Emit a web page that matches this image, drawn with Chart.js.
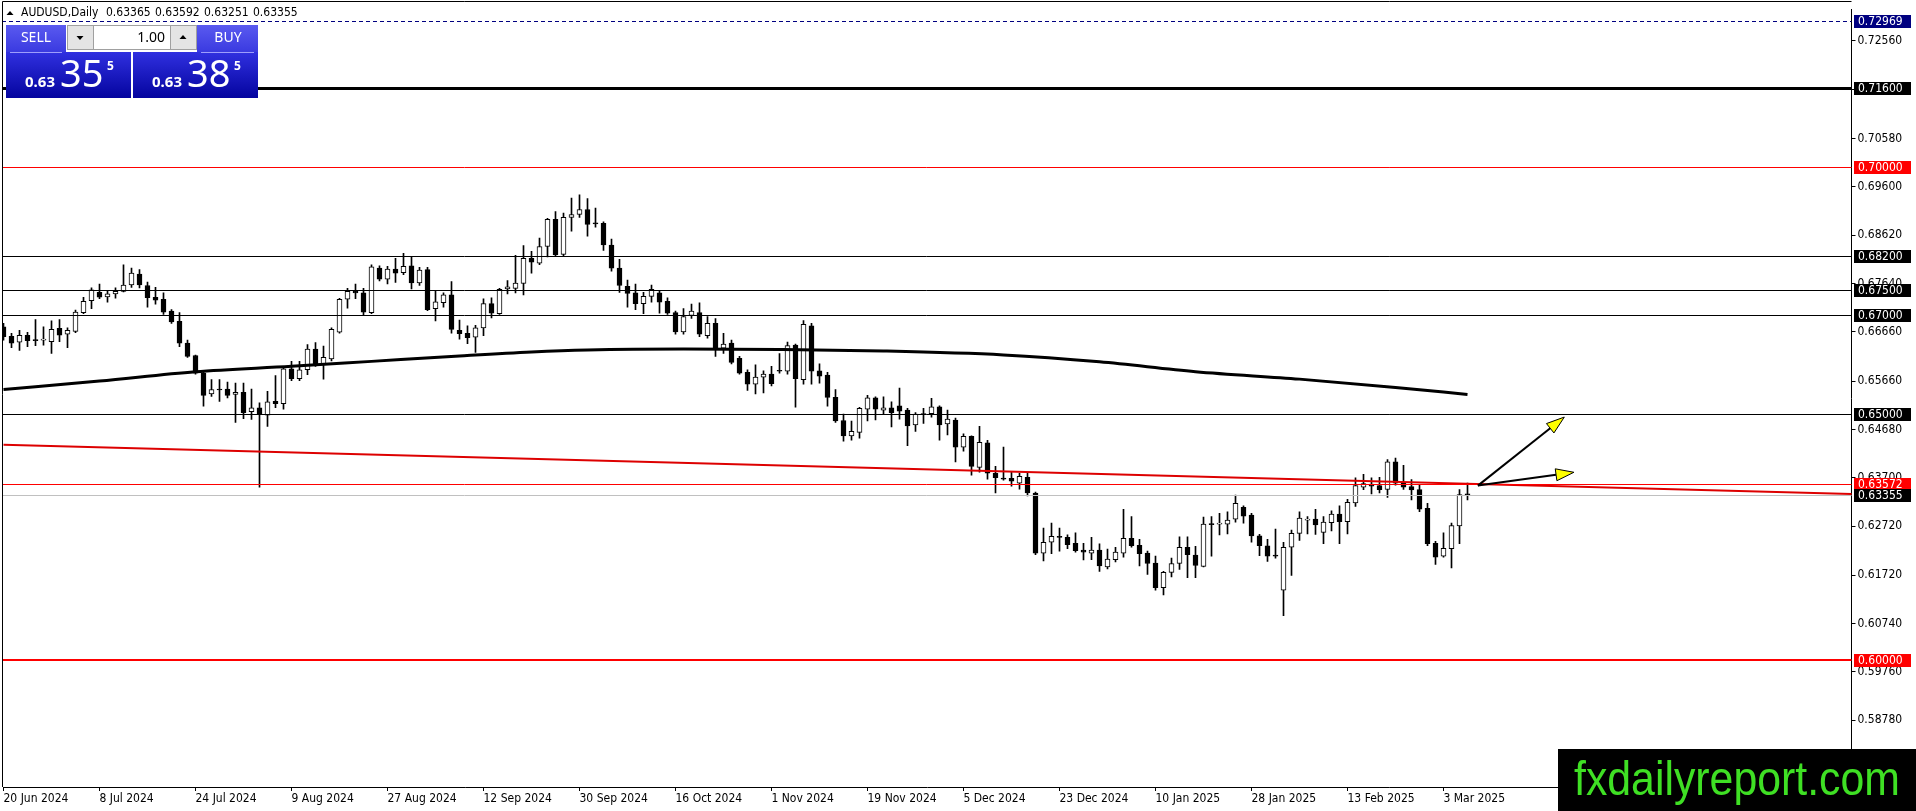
<!DOCTYPE html>
<html lang="en">
<head>
<meta charset="UTF-8" />
<title>AUDUSD Daily</title>
<script src="https://cdn.jsdelivr.net/npm/chart.js@4.4.1/dist/chart.umd.min.js"></script>
<style>
  html, body { margin: 0; padding: 0; background: #fff; }
  #wrap { width: 1916px; height: 811px; position: relative; }
</style>
</head>
<body>
<div id="wrap"><canvas id="chart"></canvas></div>
<script>
// x axis: one slot per daily bar, a date label every 12 bars
const slotCount = 232;
const barIndex = Array.from({ length: slotCount }, (_, i) => i);
const tickDates = [
  "20 Jun 2024", "8 Jul 2024", "24 Jul 2024", "9 Aug 2024", "27 Aug 2024",
  "12 Sep 2024", "30 Sep 2024", "16 Oct 2024", "1 Nov 2024", "19 Nov 2024",
  "5 Dec 2024", "23 Dec 2024", "10 Jan 2025", "28 Jan 2025", "13 Feb 2025", "3 Mar 2025",
];
const priceTicks = [
  0.7256, 0.7158, 0.7058, 0.696, 0.6862, 0.6764, 0.6666, 0.6566,
  0.6468, 0.637, 0.6272, 0.6172, 0.6074, 0.5976, 0.5878,
];

// daily candles, 20 Jun 2024 .. 6 Mar 2025
const opens = [
  0.6676, 0.6657, 0.6645, 0.6659, 0.6649, 0.6649, 0.6646, 0.6673, 0.6661, 0.6667,
  0.6705, 0.6729, 0.6746, 0.6737, 0.6743, 0.6748, 0.6761, 0.6783, 0.6760, 0.6736,
  0.6732, 0.6708, 0.6687, 0.6643, 0.6618, 0.6582, 0.6540, 0.6550, 0.6550, 0.6539,
  0.6543, 0.6504, 0.6512, 0.6497, 0.6525, 0.6520, 0.6591, 0.6571, 0.6589, 0.6631,
  0.6600, 0.6611, 0.6665, 0.6732, 0.6748, 0.6745, 0.6705, 0.6795, 0.6773, 0.6793,
  0.6786, 0.6800, 0.6765, 0.6792, 0.6713, 0.6725, 0.6741, 0.6669, 0.6663, 0.6655,
  0.6674, 0.6723, 0.6703, 0.6753, 0.6754, 0.6764, 0.6815, 0.6805, 0.6839, 0.6894,
  0.6823, 0.6898, 0.6904, 0.6914, 0.6886, 0.6886, 0.6842, 0.6795, 0.6758, 0.6745,
  0.6723, 0.6738, 0.6745, 0.6728, 0.6705, 0.6666, 0.6699, 0.6705, 0.6658, 0.6683,
  0.6633, 0.6643, 0.6612, 0.6584, 0.6560, 0.6574, 0.6580, 0.6588, 0.6586, 0.6639,
  0.6569, 0.6678, 0.6587, 0.6578, 0.6533, 0.6486, 0.6455, 0.6462, 0.6509, 0.6532,
  0.6507, 0.6512, 0.6516, 0.6507, 0.6477, 0.6499, 0.6500, 0.6514, 0.6479, 0.6487,
  0.6432, 0.6454, 0.6391, 0.6441, 0.6379, 0.6368, 0.6369, 0.6359, 0.6371, 0.6339,
  0.6217, 0.6239, 0.6251, 0.6249, 0.6237, 0.6223, 0.6217, 0.6223, 0.6189, 0.6204,
  0.6217, 0.6247, 0.6233, 0.6217, 0.6197, 0.6147, 0.6178, 0.6196, 0.6229, 0.6213,
  0.6190, 0.6276, 0.6276, 0.6276, 0.6286, 0.6310, 0.6294, 0.6252, 0.6232, 0.6212,
  0.6142, 0.6229, 0.6257, 0.6284, 0.6286, 0.6259, 0.6279, 0.6296, 0.6281, 0.6319,
  0.6351, 0.6357, 0.6354, 0.6346, 0.6402, 0.6361, 0.6352, 0.6346, 0.6308, 0.6237,
  0.6211, 0.6226, 0.6272, 0.63365,
];
const highs = [
  0.6683, 0.6663, 0.6669, 0.6665, 0.6691, 0.6676, 0.6688, 0.6691, 0.6674, 0.6710,
  0.6736, 0.6755, 0.6763, 0.6750, 0.6755, 0.6802, 0.6795, 0.6792, 0.6767, 0.6756,
  0.6745, 0.6711, 0.6705, 0.6649, 0.6619, 0.6586, 0.6569, 0.6569, 0.6564, 0.6562,
  0.6562, 0.6550, 0.6522, 0.6545, 0.6577, 0.6596, 0.6606, 0.6606, 0.6640, 0.6644,
  0.6637, 0.6674, 0.6734, 0.6754, 0.6763, 0.6754, 0.6802, 0.6800, 0.6799, 0.6815,
  0.6825, 0.6819, 0.6797, 0.6797, 0.6750, 0.6745, 0.6768, 0.6690, 0.6678, 0.6679,
  0.6733, 0.6735, 0.6754, 0.6770, 0.6821, 0.6841, 0.6829, 0.6856, 0.6896, 0.6910,
  0.6907, 0.6937, 0.6944, 0.6936, 0.6917, 0.6889, 0.6854, 0.6813, 0.6771, 0.6763,
  0.6746, 0.6761, 0.6750, 0.6735, 0.6708, 0.6713, 0.6722, 0.6725, 0.6697, 0.6693,
  0.6663, 0.6649, 0.6616, 0.6589, 0.6599, 0.6587, 0.6596, 0.6622, 0.6645, 0.6641,
  0.6689, 0.6683, 0.6601, 0.6584, 0.6549, 0.6499, 0.6485, 0.6513, 0.6537, 0.6534,
  0.6534, 0.6524, 0.6552, 0.6511, 0.6502, 0.6511, 0.6531, 0.6516, 0.6507, 0.6491,
  0.6459, 0.6455, 0.6474, 0.6446, 0.6393, 0.6432, 0.6381, 0.6379, 0.6381, 0.6341,
  0.6268, 0.6278, 0.6268, 0.6254, 0.6258, 0.6237, 0.6249, 0.6236, 0.6225, 0.6229,
  0.6306, 0.6291, 0.6245, 0.6221, 0.6211, 0.6180, 0.6207, 0.6250, 0.6250, 0.6231,
  0.6290, 0.6291, 0.6298, 0.6301, 0.6335, 0.6313, 0.6298, 0.6255, 0.6245, 0.6266,
  0.6239, 0.6264, 0.6301, 0.6291, 0.6306, 0.6291, 0.6303, 0.6313, 0.6326, 0.6370,
  0.6377, 0.6370, 0.6371, 0.6407, 0.6410, 0.6395, 0.6366, 0.6355, 0.6318, 0.6241,
  0.6258, 0.6278, 0.6346, 0.63592,
];
const lows = [
  0.6649, 0.6634, 0.6628, 0.6636, 0.6638, 0.6639, 0.6622, 0.6646, 0.6634, 0.6664,
  0.6703, 0.6713, 0.6733, 0.6726, 0.6734, 0.6747, 0.6756, 0.6755, 0.6716, 0.6722,
  0.6701, 0.6683, 0.6636, 0.6614, 0.6580, 0.6515, 0.6535, 0.6525, 0.6532, 0.6482,
  0.6490, 0.6488, 0.6351, 0.6474, 0.6512, 0.6509, 0.6567, 0.6567, 0.6579, 0.6596,
  0.6570, 0.6607, 0.6663, 0.6714, 0.6733, 0.6699, 0.6703, 0.6769, 0.6763, 0.6766,
  0.6782, 0.6753, 0.6760, 0.6709, 0.6688, 0.6716, 0.6663, 0.6651, 0.6642, 0.6624,
  0.6658, 0.6694, 0.6701, 0.6743, 0.6745, 0.6741, 0.6785, 0.6802, 0.6818, 0.6819,
  0.6820, 0.6870, 0.6898, 0.6860, 0.6878, 0.6831, 0.6789, 0.6746, 0.6716, 0.6711,
  0.6703, 0.6726, 0.6704, 0.6701, 0.6661, 0.6661, 0.6693, 0.6656, 0.6653, 0.6616,
  0.6622, 0.6601, 0.6580, 0.6547, 0.6540, 0.6542, 0.6556, 0.6582, 0.6580, 0.6513,
  0.6560, 0.6560, 0.6562, 0.6515, 0.6482, 0.6444, 0.6446, 0.6450, 0.6485, 0.6487,
  0.6500, 0.6473, 0.6489, 0.6435, 0.6464, 0.6480, 0.6493, 0.6446, 0.6457, 0.6402,
  0.6424, 0.6375, 0.6381, 0.6367, 0.6339, 0.6365, 0.6353, 0.6347, 0.6333, 0.6214,
  0.6201, 0.6216, 0.6221, 0.6226, 0.6219, 0.6203, 0.6204, 0.6180, 0.6185, 0.6199,
  0.6209, 0.6229, 0.6191, 0.6174, 0.6142, 0.6132, 0.6169, 0.6184, 0.6167, 0.6167,
  0.6189, 0.6211, 0.6254, 0.6256, 0.6280, 0.6278, 0.6239, 0.6212, 0.6200, 0.6207,
  0.6090, 0.6172, 0.6243, 0.6256, 0.6255, 0.6236, 0.6262, 0.6236, 0.6256, 0.6312,
  0.6346, 0.6337, 0.6339, 0.6330, 0.6355, 0.6346, 0.6325, 0.6301, 0.6232, 0.6194,
  0.6209, 0.6187, 0.6236, 0.63251,
];
const closes = [
  0.6656, 0.6643, 0.6659, 0.6648, 0.6648, 0.6650, 0.6671, 0.6659, 0.6669, 0.6706,
  0.6728, 0.6751, 0.6736, 0.6743, 0.6748, 0.6761, 0.6785, 0.6761, 0.6735, 0.6730,
  0.6706, 0.6686, 0.6643, 0.6616, 0.6582, 0.6537, 0.6549, 0.6548, 0.6537, 0.6543,
  0.6502, 0.6512, 0.6499, 0.6524, 0.6520, 0.6591, 0.6571, 0.6589, 0.6631, 0.6599,
  0.6614, 0.6671, 0.6732, 0.6748, 0.6745, 0.6706, 0.6798, 0.6773, 0.6793, 0.6785,
  0.6799, 0.6765, 0.6791, 0.6711, 0.6727, 0.6741, 0.6671, 0.6662, 0.6654, 0.6674,
  0.6723, 0.6704, 0.6752, 0.6757, 0.6765, 0.6815, 0.6807, 0.6839, 0.6894, 0.6822,
  0.6898, 0.6904, 0.6914, 0.6884, 0.6885, 0.6842, 0.6795, 0.6760, 0.6744, 0.6723,
  0.6738, 0.6752, 0.6726, 0.6704, 0.6666, 0.6697, 0.6708, 0.6661, 0.6683, 0.6634,
  0.6641, 0.6604, 0.6582, 0.6560, 0.6574, 0.6580, 0.6561, 0.6586, 0.6638, 0.6571,
  0.6681, 0.6586, 0.6576, 0.6533, 0.6485, 0.6455, 0.6464, 0.6511, 0.6532, 0.6509,
  0.6512, 0.6502, 0.6505, 0.6475, 0.6499, 0.6498, 0.6514, 0.6477, 0.6489, 0.6432,
  0.6454, 0.6393, 0.6442, 0.6379, 0.6370, 0.6367, 0.6363, 0.6373, 0.6339, 0.6217,
  0.6239, 0.6251, 0.6249, 0.6234, 0.6222, 0.6219, 0.6223, 0.6191, 0.6205, 0.6219,
  0.6247, 0.6232, 0.6216, 0.6196, 0.6147, 0.6178, 0.6196, 0.6229, 0.6214, 0.6192,
  0.6276, 0.6275, 0.6277, 0.6284, 0.6318, 0.6292, 0.6252, 0.6232, 0.6211, 0.6211,
  0.6229, 0.6257, 0.6288, 0.6285, 0.6274, 0.6280, 0.6296, 0.6281, 0.6320, 0.6354,
  0.6358, 0.6353, 0.6346, 0.6402, 0.6359, 0.6351, 0.6345, 0.6306, 0.6236, 0.6209,
  0.6227, 0.6273, 0.6336, 0.63355,
];

// moving average (black) read at a few bars, and the red trend line
const maIndex = [0, 12, 24, 36, 46, 57, 66, 73, 85, 97, 110, 125, 137, 149, 162, 174, 183];
const maValues = [
  0.6549, 0.6566, 0.6585, 0.6596, 0.6606, 0.6617, 0.6625, 0.6629, 0.6631,
  0.663, 0.6627, 0.6619, 0.6605, 0.6585, 0.657, 0.6553, 0.6539,
];
const trendIndex = [0, 231];
const trendValues = [0.6437, 0.6337];

// horizontal levels and the two drawn arrows
const levelValues = [0.72969, 0.716, 0.7, 0.682, 0.675, 0.67, 0.65, 0.63572, 0.63355, 0.6];
const arrowFrom = [184.3, 0.6354];
const arrowTo = [[195.1, 0.6493], [196.3, 0.6381]];
const bid = 0.63355;
const ask = 0.63385;

const FONT = '"DejaVu Sans Condensed", "Liberation Sans", sans-serif';
const UI_FONT = '"Noto Sans", "Liberation Sans", sans-serif';

// style per level, same order as levelValues
const levelStyles = [
  { color: "#000080", width: 1, dash: [4, 3], box: "#000080" },
  { color: "#000000", width: 3, box: "#000000" },
  { color: "#ff0000", width: 1, box: "#ff0000" },
  { color: "#000000", width: 1, box: "#000000" },
  { color: "#000000", width: 1, box: "#000000" },
  { color: "#000000", width: 1, box: "#000000" },
  { color: "#000000", width: 1, box: "#000000" },
  { color: "#ff0000", width: 1, box: "#ff0000" },
  { color: "#c0c0c0", width: 1, box: "#000000" },
  { color: "#ff0000", width: 2, box: "#ff0000" },
];

function drawArrow(ctx, x0, y0, x1, y1) {
  const a = Math.atan2(y1 - y0, x1 - x0);
  const L = 18, W = 6;
  const bx = x1 - L * Math.cos(a), by = y1 - L * Math.sin(a);
  ctx.strokeStyle = "#000";
  ctx.lineWidth = 2;
  ctx.beginPath();
  ctx.moveTo(x0, y0);
  ctx.lineTo(bx, by);
  ctx.stroke();
  ctx.beginPath();
  ctx.moveTo(x1, y1);
  ctx.lineTo(bx + W * Math.sin(a), by - W * Math.cos(a));
  ctx.lineTo(bx - W * Math.sin(a), by + W * Math.cos(a));
  ctx.closePath();
  ctx.fillStyle = "#ffff00";
  ctx.fill();
  ctx.lineWidth = 1;
  ctx.stroke();
}

function drawTriangle(ctx, cx, cy, up) {
  ctx.beginPath();
  if (up) {
    ctx.moveTo(cx - 3.5, cy + 2); ctx.lineTo(cx + 3.5, cy + 2); ctx.lineTo(cx, cy - 2);
  } else {
    ctx.moveTo(cx - 3.5, cy - 2); ctx.lineTo(cx + 3.5, cy - 2); ctx.lineTo(cx, cy + 2);
  }
  ctx.closePath();
  ctx.fill();
}

function drawPrice(ctx, price, x) {
  const s = price.toFixed(5);
  ctx.fillStyle = "#fff";
  ctx.textBaseline = "alphabetic";
  ctx.textAlign = "left";
  ctx.font = "bold 15px " + UI_FONT;
  ctx.fillText(s.slice(0, 4), x, 87);
  ctx.font = "38px " + UI_FONT;
  ctx.fillText(s.slice(4, 6), x + 35, 87);
  ctx.font = "bold 12px " + UI_FONT;
  ctx.fillText(s.slice(6), x + 82, 70);
}

function drawPanel(ctx) {
  ctx.fillStyle = "#fff";
  ctx.fillRect(6, 25, 252, 73);
  // tabs
  let g = ctx.createLinearGradient(0, 25, 0, 52);
  g.addColorStop(0, "#5a5af0");
  g.addColorStop(1, "#3a3ae0");
  ctx.fillStyle = g;
  ctx.fillRect(6, 25, 60, 27);
  ctx.fillRect(197, 25, 61, 27);
  // price areas
  g = ctx.createLinearGradient(0, 52, 0, 97);
  g.addColorStop(0, "#3030e0");
  g.addColorStop(1, "#0505a0");
  ctx.fillStyle = g;
  ctx.fillRect(6, 52, 125, 46);
  ctx.fillRect(133, 52, 125, 46);
  ctx.strokeStyle = "rgba(170,170,255,0.9)";
  ctx.lineWidth = 1;
  ctx.beginPath();
  ctx.moveTo(10, 52.5); ctx.lineTo(62, 52.5);
  ctx.moveTo(201, 52.5); ctx.lineTo(254, 52.5);
  ctx.stroke();
  // lot spinner
  ctx.fillStyle = "#fff";
  ctx.fillRect(67, 25, 130, 25);
  ctx.fillStyle = "#e4e4e4";
  ctx.fillRect(67, 25, 26, 25);
  ctx.fillRect(171, 25, 26, 25);
  ctx.strokeStyle = "#a0a0a0";
  ctx.strokeRect(67.5, 25.5, 129, 24);
  ctx.beginPath();
  ctx.moveTo(93.5, 26); ctx.lineTo(93.5, 50);
  ctx.moveTo(170.5, 26); ctx.lineTo(170.5, 50);
  ctx.stroke();
  ctx.fillStyle = "#000";
  drawTriangle(ctx, 80, 38, false);
  drawTriangle(ctx, 183, 37, true);
  ctx.font = "14px " + UI_FONT;
  ctx.textAlign = "right";
  ctx.textBaseline = "middle";
  ctx.fillText("1.00", 165, 38);
  // tab captions
  ctx.fillStyle = "#fff";
  ctx.textAlign = "center";
  ctx.fillText("SELL", 36, 38);
  ctx.fillText("BUY", 228, 38);
  drawPrice(ctx, bid, 25);
  drawPrice(ctx, ask, 152);
}

const mtDecor = {
  id: "mtDecor",
  beforeDraw(chart) {
    const ctx = chart.ctx;
    ctx.save();
    ctx.fillStyle = "#fff";
    ctx.fillRect(0, 0, chart.width, chart.height);
    ctx.restore();
  },
  afterDatasetsDraw(chart) {
    const { ctx, chartArea, scales } = chart;
    ctx.save();
    levelValues.forEach((v, i) => {
      const st = levelStyles[i];
      const y = Math.round(scales.y.getPixelForValue(v)) + (st.width % 2 ? 0.5 : 0);
      ctx.strokeStyle = st.color;
      ctx.lineWidth = st.width;
      ctx.setLineDash(st.dash || []);
      ctx.beginPath();
      ctx.moveTo(2, y);
      ctx.lineTo(chartArea.right, y);
      ctx.stroke();
    });
    ctx.setLineDash([]);
    arrowTo.forEach((p) => {
      drawArrow(
        ctx,
        scales.x.getPixelForValue(arrowFrom[0]), scales.y.getPixelForValue(arrowFrom[1]),
        scales.x.getPixelForValue(p[0]), scales.y.getPixelForValue(p[1])
      );
    });
    ctx.restore();
  },
  afterDraw(chart) {
    const { ctx, chartArea, scales } = chart;
    ctx.save();
    // frame
    ctx.strokeStyle = "#000";
    ctx.lineWidth = 1;
    ctx.beginPath();
    ctx.moveTo(2.5, chartArea.bottom);
    ctx.lineTo(2.5, 1.5);
    ctx.lineTo(chartArea.right, 1.5);
    ctx.stroke();
    // header
    ctx.fillStyle = "#000";
    drawTriangle(ctx, 10, 13, true);
    ctx.font = "12px " + FONT;
    ctx.textAlign = "left";
    ctx.textBaseline = "middle";
    const last = opens.length - 1;
    ctx.fillText("AUDUSD,Daily", 21, 13);
    [opens[last], highs[last], lows[last], closes[last]].forEach((v, i) => {
      ctx.fillText(v.toFixed(5), 106 + i * 49, 13);
    });
    // level price boxes on the axis
    levelValues.forEach((v, i) => {
      const y = scales.y.getPixelForValue(v);
      ctx.fillStyle = levelStyles[i].box;
      ctx.fillRect(1854, Math.round(y) - 6, 57, 13);
      ctx.fillStyle = "#fff";
      ctx.fillText(v.toFixed(5), 1858, Math.round(y) + 0.5);
    });
    drawPanel(ctx);
    // watermark
    ctx.fillStyle = "#000";
    ctx.fillRect(1558, 749, 358, 62);
    ctx.fillStyle = "#3fe024";
    ctx.font = "48px " + '"Liberation Sans", sans-serif';
    ctx.textBaseline = "alphabetic";
    ctx.textAlign = "left";
    const t = "fxdailyreport.com";
    const w = ctx.measureText(t).width;
    ctx.translate(1574, 795);
    ctx.scale(326 / w, 1);
    ctx.fillText(t, 0, 0);
    ctx.restore();
  },
};

const bodyColors = opens.map((o, i) => (closes[i] >= o ? "#ffffff" : "#000000"));

new Chart(document.getElementById("chart"), {
  type: "bar",
  data: {
    labels: barIndex,
    datasets: [
      {
        type: "line",
        label: "MA",
        data: maIndex.map((x, i) => ({ x, y: maValues[i] })),
        borderColor: "#000",
        borderWidth: 3,
        pointRadius: 0,
        cubicInterpolationMode: "monotone",
        order: 0,
      },
      {
        type: "line",
        label: "trend",
        data: trendIndex.map((x, i) => ({ x, y: trendValues[i] })),
        borderColor: "#dd0000",
        borderWidth: 2,
        pointRadius: 0,
        order: 0,
      },
      {
        label: "body",
        data: opens.map((o, i) => [o, closes[i]]),
        backgroundColor: bodyColors,
        borderColor: "#000",
        borderWidth: 1,
        borderSkipped: false,
        barThickness: 5,
        minBarLength: 1,
        grouped: false,
        clip: { left: 1, top: 0, right: 0, bottom: 0 },
        order: 1,
      },
      {
        label: "wick",
        data: lows.map((l, i) => [l, highs[i]]),
        backgroundColor: "#000",
        barThickness: 1,
        grouped: false,
        clip: { left: 1, top: 0, right: 0, bottom: 0 },
        order: 2,
      },
    ],
  },
  options: {
    responsive: true,
    maintainAspectRatio: false,
    animation: false,
    events: [],
    layout: { padding: { left: 3.5, top: 2, right: 0, bottom: 0 } },
    plugins: { legend: { display: false }, tooltip: { enabled: false } },
    scales: {
      x: {
        type: "category",
        offset: false,
        afterBuildTicks: (s) => {
          s.ticks = s.ticks.filter((t) => t.value % 12 === 0 && t.value / 12 < tickDates.length);
        },
        afterFit: (s) => { s.height = 24; },
        ticks: {
          callback: (v) => tickDates[v / 12],
          align: "start",
          autoSkip: false,
          maxRotation: 0,
          padding: 1,
          color: "#000",
          font: { family: FONT, size: 12 },
        },
        grid: { drawOnChartArea: false, offset: false, tickLength: 4, color: "#000" },
        border: { color: "#000", width: 1 },
      },
      y: {
        type: "linear",
        position: "right",
        min: 0.57426,
        max: 0.73204,
        afterBuildTicks: (s) => {
          s.ticks = priceTicks.map((value) => ({ value }));
        },
        afterFit: (s) => { s.width = 64.5; },
        ticks: {
          callback: (v) => v.toFixed(5),
          padding: 2,
          color: "#000",
          font: { family: FONT, size: 12 },
        },
        grid: { drawOnChartArea: false, tickLength: 4, color: "#000" },
        border: { color: "#000", width: 1 },
      },
    },
  },
  plugins: [mtDecor],
});
</script>
</body>
</html>
